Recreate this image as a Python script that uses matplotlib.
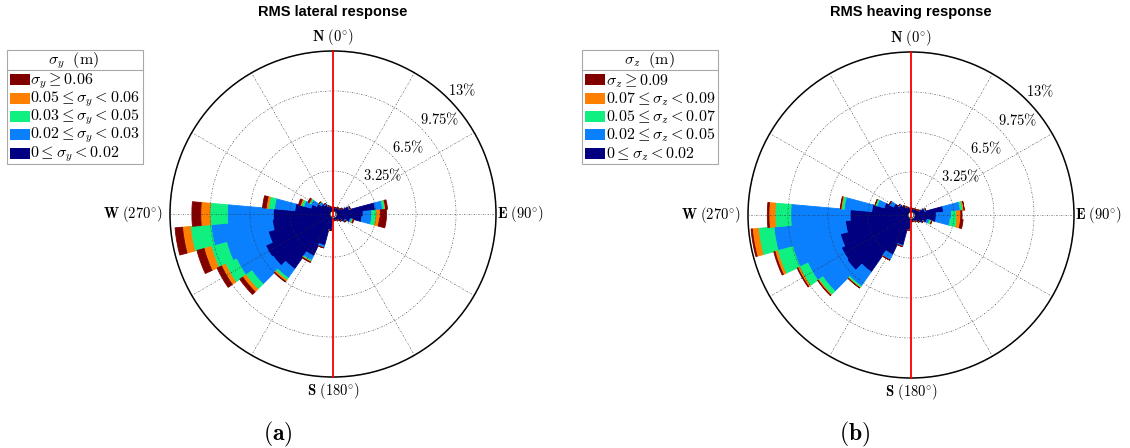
import numpy as np
import matplotlib
matplotlib.use("Agg")
import matplotlib.pyplot as plt
from matplotlib.patches import Rectangle

plt.rcParams["mathtext.fontset"] = "cm"

W, H = 1130, 448

# sector centres, degrees clockwise from North (10 deg bins)
DIRS = [0, 10, 20, 30, 40, 50, 60, 70, 80, 90, 100, 110,
        120, 130, 140, 150, 160, 170, 180, 190, 200, 210, 220, 230,
        240, 250, 260, 270, 280, 290, 300, 310, 320, 330, 340, 350]

# (a) RMS lateral response, % occurrence per sector and sigma_y class
lat_c1 = [0.3, 0.3, 0.3, 0.3, 0.4, 0.4, 0.6, 1.1, 3.2, 2.2, 2.1, 1.2,
          0.8, 0.6, 0.4, 0.3, 0.3, 0.3, 0.3, 1.1, 2.4, 3.5, 5.2, 5.7,
          5.8, 5.2, 4.7, 4.6, 2.86, 1.6, 1.2, 0.9, 0.7, 0.5, 0.4, 0.3]
lat_c2 = [0, 0, 0, 0, 0, 0, 0, 0.1, 0.6, 0.7, 0.8, 0.1,
          0.1, 0, 0, 0, 0, 0, 0, 0, 0.2, 0.4, 0.9, 2.1,
          2.6, 3.5, 5.0, 3.73, 1.66, 0.6, 0.5, 0.2, 0.1, 0, 0, 0]
lat_c3 = [0, 0, 0, 0, 0, 0, 0, 0, 0.2, 0.4, 0.35, 0.1,
          0, 0, 0, 0, 0, 0, 0, 0, 0, 0.1, 0.2, 0.6,
          1.0, 1.3, 1.68, 1.42, 0.5, 0.2, 0.15, 0.05, 0, 0, 0, 0]
lat_c4 = [0, 0, 0, 0, 0, 0, 0, 0, 0.05, 0.3, 0.3, 0.05,
          0, 0, 0, 0, 0, 0, 0, 0, 0, 0.05, 0.15, 0.3,
          0.35, 0.6, 0.65, 0.75, 0.18, 0.1, 0.05, 0, 0, 0, 0, 0]
lat_c5 = [0, 0, 0, 0, 0, 0, 0, 0, 0.15, 0.5, 0.55, 0.05,
          0, 0, 0, 0, 0, 0, 0, 0, 0, 0.05, 0.05, 0.3,
          0.4, 0.6, 0.61, 0.72, 0.3, 0.15, 0.1, 0, 0, 0, 0, 0]

# (b) RMS heaving response, sigma_z classes
hv_c1 = [0.3, 0.3, 0.3, 0.3, 0.35, 0.4, 0.5, 0.9, 2.4, 1.8, 1.8, 1.1,
         0.8, 0.6, 0.4, 0.3, 0.3, 0.3, 0.3, 1.0, 2.3, 3.3, 5.4, 6.1,
         6.0, 5.7, 5.1, 4.7, 2.95, 2.0, 1.3, 0.9, 0.7, 0.5, 0.4, 0.3]
hv_c2 = [0, 0, 0, 0, 0, 0, 0, 0.1, 1.37, 1.24, 1.15, 0.2,
         0.05, 0, 0, 0, 0, 0, 0, 0, 0.1, 0.5, 1.4, 2.4,
         3.0, 4.0, 5.83, 4.82, 2.25, 0.6, 0.4, 0.1, 0, 0, 0, 0]
hv_c3 = [0, 0, 0, 0, 0, 0, 0, 0, 0.2, 0.41, 0.55, 0.15,
         0, 0, 0, 0, 0, 0, 0, 0, 0, 0, 0.15, 0.4,
         0.75, 1.28, 1.27, 1.28, 0.2, 0.15, 0, 0, 0, 0, 0, 0]
hv_c4 = [0, 0, 0, 0, 0, 0, 0, 0, 0.12, 0.35, 0.3, 0.05,
         0, 0, 0, 0, 0, 0, 0, 0, 0, 0, 0.05, 0.08,
         0.15, 0.22, 0.5, 0.5, 0.07, 0.02, 0, 0, 0, 0, 0, 0]
hv_c5 = [0, 0, 0, 0, 0, 0, 0, 0, 0, 0.1, 0.2, 0,
         0, 0, 0, 0, 0, 0, 0, 0, 0, 0, 0, 0.04,
         0.06, 0.1, 0.1, 0.13, 0.05, 0, 0, 0, 0, 0, 0, 0]

# class colours, lowest class first
CLASS_COLORS = ["#000080", "#0a80ff", "#10f080", "#ff8000", "#800000"]

RINGS = [3.25, 6.5, 9.75, 13]
RING_LABELS = [r"$3.25\%$", r"$6.5\%$", r"$9.75\%$", r"$13\%$"]

LAT_TITLE = r"$\sigma_y\ \ (\mathrm{m})$"
LAT_LABELS = [r"$\sigma_y \geq 0.06$",
              r"$0.05 \leq \sigma_y < 0.06$",
              r"$0.03 \leq \sigma_y < 0.05$",
              r"$0.02 \leq \sigma_y < 0.03$",
              r"$0 \leq \sigma_y < 0.02$"]
HV_TITLE = r"$\sigma_z\ \ (\mathrm{m})$"
HV_LABELS = [r"$\sigma_z \geq 0.09$",
             r"$0.07 \leq \sigma_z < 0.09$",
             r"$0.05 \leq \sigma_z < 0.07$",
             r"$0.02 \leq \sigma_z < 0.05$",
             r"$0 \leq \sigma_z < 0.02$"]

FS = 10.5
LEG_FS = 11.5


def px_rect(cx, cy, r):
    return [(cx - r) / W, 1 - (cy + r) / H, 2 * r / W, 2 * r / H]


def rose(fig, cx, cy, r, classes):
    ax = fig.add_axes(px_rect(cx, cy, r), projection="polar")
    th = np.deg2rad(DIRS)
    width = np.deg2rad(10)
    bottom = np.zeros(len(DIRS))
    for vals, col in zip(classes, CLASS_COLORS):
        v = np.array(vals, dtype=float)
        ax.bar(th, v, width=width, bottom=bottom, color=col,
               edgecolor=col, linewidth=0.6)
        bottom += v
    ax.set_theta_zero_location("N")
    ax.set_theta_direction(-1)
    ax.set_ylim(0, 13)
    ax.set_rorigin(-0.25)
    ax.set_xticks(np.deg2rad(np.arange(0, 360, 30)))
    ax.set_xticklabels([])
    ax.set_yticks(RINGS)
    ax.set_yticklabels([])
    ax.set_axisbelow(False)
    ax.grid(True, color="#2e2e2e", ls=(0, (2.5, 2.5, 1, 2.5)), lw=0.4)
    ax.spines["polar"].set_color("k")
    ax.spines["polar"].set_linewidth(1.1)
    ax.spines["inner"].set_visible(False)

    # N-S reference line and centre dot
    ax.plot([0.5, 0.5], [0, 1], transform=ax.transAxes, color="red",
            lw=1.3, zorder=5, clip_on=False)
    ax.plot([0.5], [0.5], "o", transform=ax.transAxes, ms=5,
            mfc="white", mec="#222222", mew=0.6, zorder=6)

    for rv, lab in zip(RINGS, RING_LABELS):
        ax.text(np.deg2rad(45), rv, lab, ha="left", va="bottom",
                fontsize=FS, zorder=7)

    d = 1 / (2 * r)
    ax.text(0.5, 1 + 4 * d, r"$\mathbf{N}\ (0^{\circ})$", transform=ax.transAxes,
            ha="center", va="bottom", fontsize=FS)
    ax.text(0.5, -4 * d, r"$\mathbf{S}\ (180^{\circ})$", transform=ax.transAxes,
            ha="center", va="top", fontsize=FS)
    ax.text(1 + 1 * d, 0.5, r"$\mathbf{E}\ (90^{\circ})$", transform=ax.transAxes,
            ha="left", va="center", fontsize=FS)
    ax.text(-7 * d, 0.5, r"$\mathbf{W}\ (270^{\circ})$", transform=ax.transAxes,
            ha="right", va="center", fontsize=FS)
    return ax


def legend_box(ov, x0, title, labels):
    ov.add_patch(Rectangle((x0, 50), 136, 114, facecolor="white",
                           edgecolor="#a8a8a8", lw=0.8))
    ov.plot([x0, x0 + 136], [70, 70], color="#a8a8a8", lw=0.8)
    ov.text(x0 + 67, 60.5, title, ha="center", va="center", fontsize=LEG_FS)
    for i, (lab, col) in enumerate(zip(labels, CLASS_COLORS[::-1])):
        y = 80 + i * 18.3
        ov.add_patch(Rectangle((x0 + 3, y - 5.5), 20, 11, facecolor=col,
                               edgecolor="none"))
        ov.text(x0 + 23.5, y + 0.5, lab, ha="left", va="center", fontsize=LEG_FS)


def main():
    fig = plt.figure(figsize=(W / 100, H / 100), dpi=100)
    fig.patch.set_facecolor("white")

    rose(fig, 333, 214, 163, [lat_c1, lat_c2, lat_c3, lat_c4, lat_c5])
    rose(fig, 911, 215, 163, [hv_c1, hv_c2, hv_c3, hv_c4, hv_c5])

    ov = fig.add_axes([0, 0, 1, 1], facecolor="none")
    ov.set_xlim(0, W)
    ov.set_ylim(H, 0)
    ov.axis("off")

    legend_box(ov, 7, LAT_TITLE, LAT_LABELS)
    legend_box(ov, 582, HV_TITLE, HV_LABELS)

    ov.text(333, 12, "RMS lateral response", ha="center", va="center",
            fontsize=10.5, fontweight="bold", family="Liberation Sans")
    ov.text(911, 12, "RMS heaving response", ha="center", va="center",
            fontsize=10.5, fontweight="bold", family="Liberation Sans")
    ov.text(278, 434, r"$(\mathbf{a})$", ha="center", va="center", fontsize=17)
    ov.text(855, 434, r"$(\mathbf{b})$", ha="center", va="center", fontsize=17)

    fig.savefig("out.png", dpi=100)


if __name__ == "__main__":
    main()
